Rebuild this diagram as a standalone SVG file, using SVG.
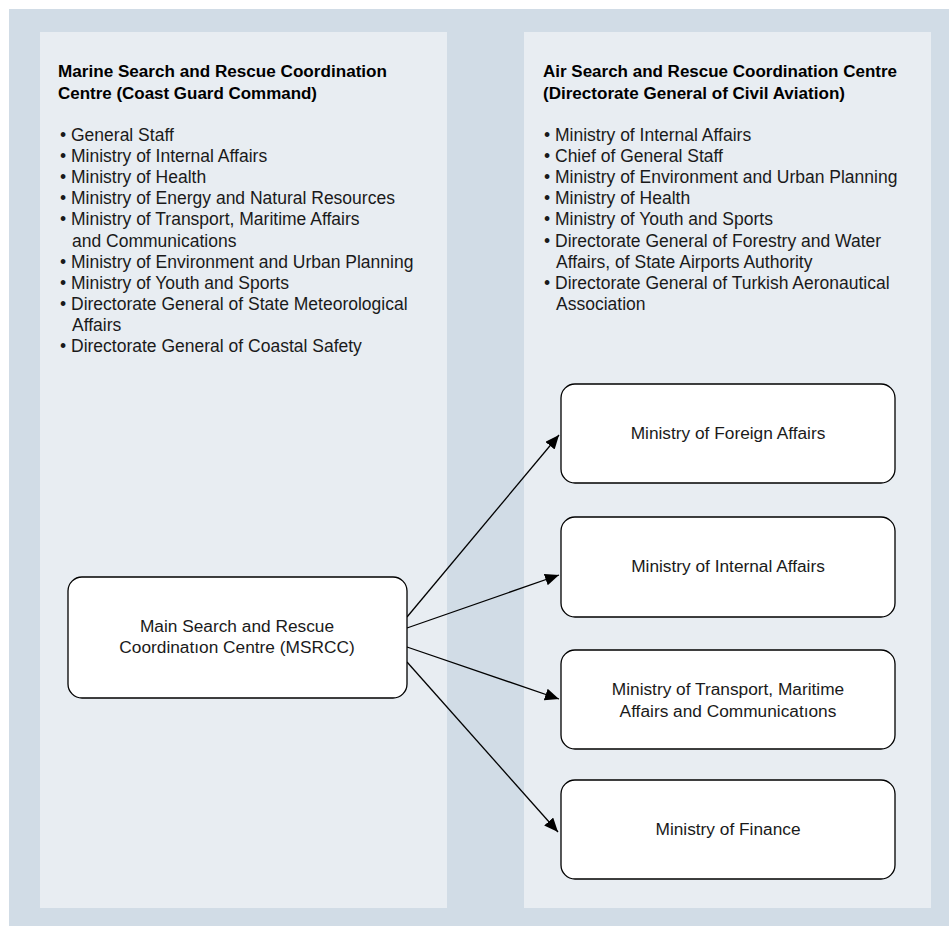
<svg xmlns="http://www.w3.org/2000/svg" width="949" height="926" viewBox="0 0 949 926">
<defs>
<style>
.hd{font-family:"Liberation Sans",Arial,sans-serif;font-weight:bold;font-size:16px;fill:#000}
.li{font-family:"Liberation Sans",Arial,sans-serif;font-size:17.5px;fill:#1a1a1a}
.bx{fill:#fff;stroke:#000;stroke-width:1.3}
.bt{font-family:"Liberation Sans",Arial,sans-serif;font-size:17.3px;fill:#1a1a1a;text-anchor:middle}
.cn{stroke:#000;stroke-width:1.3;fill:none;marker-end:url(#ah)}
</style>
<marker id="ah" markerUnits="userSpaceOnUse" markerWidth="15" markerHeight="13" refX="14" refY="6" orient="auto">
<path d="M0,0 L14,6 L0,12 z" fill="#000"/>
</marker>
</defs>
<rect x="9" y="9" width="940" height="917" fill="#d1dce6"/>
<rect x="40" y="32" width="407" height="876" fill="#e8edf2"/>
<rect x="524" y="32" width="407" height="876" fill="#e8edf2"/>

<g id="marine-panel">
<text class="hd" x="58" y="77" textLength="329" lengthAdjust="spacingAndGlyphs">Marine Search and Rescue Coordination</text>
<text class="hd" x="58" y="99" textLength="259" lengthAdjust="spacingAndGlyphs">Centre (Coast Guard Command)</text>
<g class="li">
<text x="60" y="141">•</text><text x="71" y="141">General Staff</text>
<text x="60" y="162.1">•</text><text x="71" y="162.1">Ministry of Internal Affairs</text>
<text x="60" y="183.2">•</text><text x="71" y="183.2">Ministry of Health</text>
<text x="60" y="204.3">•</text><text x="71" y="204.3">Ministry of Energy and Natural Resources</text>
<text x="60" y="225.4">•</text><text x="71" y="225.4">Ministry of Transport, Maritime Affairs</text>
<text x="72" y="246.5">and Communications</text>
<text x="60" y="267.6">•</text><text x="71" y="267.6">Ministry of Environment and Urban Planning</text>
<text x="60" y="288.7">•</text><text x="71" y="288.7">Ministry of Youth and Sports</text>
<text x="60" y="309.8">•</text><text x="71" y="309.8">Directorate General of State Meteorological</text>
<text x="72" y="330.9">Affairs</text>
<text x="60" y="352">•</text><text x="71" y="352">Directorate General of Coastal Safety</text>
</g>
</g>

<g id="air-panel">
<text class="hd" x="543" y="77" textLength="354" lengthAdjust="spacingAndGlyphs">Air Search and Rescue Coordination Centre</text>
<text class="hd" x="543" y="99" textLength="302" lengthAdjust="spacingAndGlyphs">(Directorate General of Civil Aviation)</text>
<g class="li">
<text x="544" y="141">•</text><text x="555" y="141">Ministry of Internal Affairs</text>
<text x="544" y="162.1">•</text><text x="555" y="162.1">Chief of General Staff</text>
<text x="544" y="183.2">•</text><text x="555" y="183.2">Ministry of Environment and Urban Planning</text>
<text x="544" y="204.3">•</text><text x="555" y="204.3">Ministry of Health</text>
<text x="544" y="225.4">•</text><text x="555" y="225.4">Ministry of Youth and Sports</text>
<text x="544" y="246.5">•</text><text x="555" y="246.5">Directorate General of Forestry and Water</text>
<text x="556" y="267.6">Affairs, of State Airports Authority</text>
<text x="544" y="288.7">•</text><text x="555" y="288.7">Directorate General of Turkish Aeronautical</text>
<text x="556" y="309.8">Association</text>
</g>
</g>

<g id="connectors">
<line class="cn" x1="407" y1="617" x2="559" y2="435"/>
<line class="cn" x1="407" y1="628" x2="559" y2="575"/>
<line class="cn" x1="407" y1="647" x2="559" y2="699"/>
<line class="cn" x1="407" y1="662" x2="558" y2="832"/>
</g>

<g id="msrcc">
<rect class="bx" x="68" y="577" width="339" height="121" rx="14"/>
<text class="bt" x="237" y="632">Main Search and Rescue</text>
<text class="bt" x="237" y="653">Coordinatıon Centre (MSRCC)</text>
</g>
<g id="foreign">
<rect class="bx" x="561" y="384" width="334" height="99" rx="14"/>
<text class="bt" x="728" y="439">Ministry of Foreign Affairs</text>
</g>
<g id="internal">
<rect class="bx" x="561" y="517" width="334" height="100" rx="14"/>
<text class="bt" x="728" y="572">Ministry of Internal Affairs</text>
</g>
<g id="transport">
<rect class="bx" x="561" y="650" width="334" height="99" rx="14"/>
<text class="bt" x="728" y="695">Ministry of Transport, Maritime</text>
<text class="bt" x="728" y="717">Affairs and Communicatıons</text>
</g>
<g id="finance">
<rect class="bx" x="561" y="780" width="334" height="99" rx="14"/>
<text class="bt" x="728" y="835">Ministry of Finance</text>
</g>
</svg>
